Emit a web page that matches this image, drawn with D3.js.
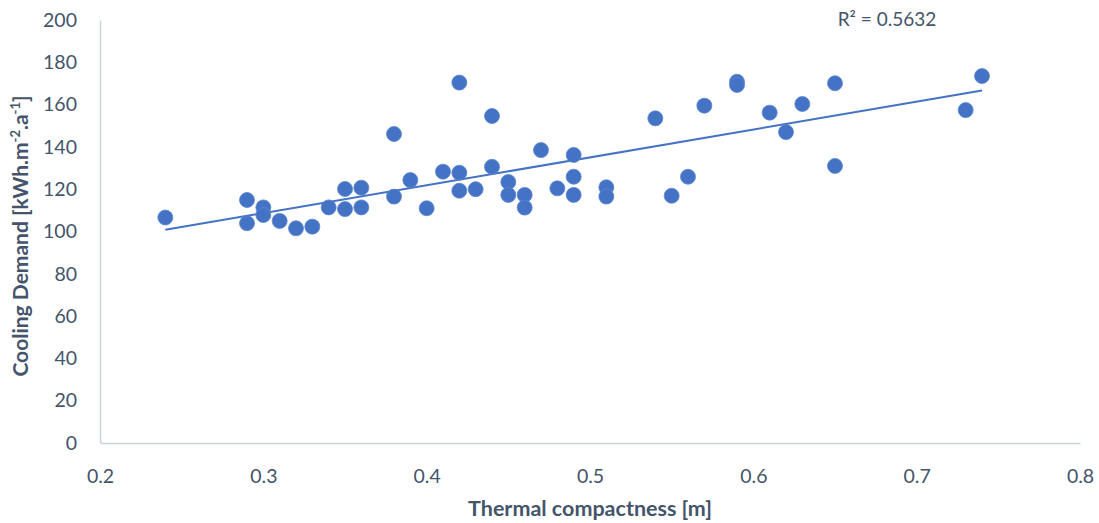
<!DOCTYPE html>
<html lang="en">
<head>
    <meta charset="UTF-8">
    <title>Cooling demand vs thermal compactness</title>
    <script src="https://d3js.org/d3.v7.min.js"></script>
    <style>
        body { margin: 0; background: #fff; }
        text { font-family: Lato, "Open Sans", sans-serif; fill: #44546A; }
    </style>
</head>
<body>
    <svg id="chart"></svg>

    <script>
        // thermal compactness [m]
        const compactness = [
            0.24, 0.29, 0.29, 0.30, 0.30, 0.31, 0.32, 0.33, 0.34, 0.35, 0.35, 0.36, 0.36,
            0.38, 0.38, 0.39, 0.40, 0.41, 0.42, 0.42, 0.42, 0.43, 0.44, 0.44, 0.45, 0.45,
            0.46, 0.46, 0.47, 0.48, 0.49, 0.49, 0.49, 0.51, 0.51, 0.54, 0.55, 0.56, 0.57,
            0.59, 0.59, 0.61, 0.62, 0.63, 0.65, 0.65, 0.73, 0.74
        ];
        // cooling demand [kWh.m-2.a-1]
        const cooling = [
            106.6, 114.9, 103.9, 111.4, 107.8, 105.0, 101.5, 102.3, 111.4, 120.1, 110.6, 120.7, 111.4,
            146.1, 116.5, 124.3, 111.0, 128.3, 170.4, 127.8, 119.3, 120.0, 154.6, 130.6, 123.4, 117.3,
            117.3, 111.3, 138.5, 120.4, 136.2, 125.9, 117.3, 120.9, 116.5, 153.5, 116.9, 125.9, 159.5,
            170.8, 169.3, 156.2, 147.0, 160.3, 170.1, 131.0, 157.4, 173.5
        ];
        const xTicks = [0.2, 0.3, 0.4, 0.5, 0.6, 0.7, 0.8];
        const yTicks = [0, 20, 40, 60, 80, 100, 120, 140, 160, 180, 200];
        const r2Label = "R² = 0.5632";

        const data = compactness.map((x, i) => ({ x: x, y: cooling[i] }));

        const width = 1099, height = 523;
        const margin = { top: 20, right: 19, bottom: 80, left: 100 };

        const svg = d3.select("#chart")
                      .attr("width", width)
                      .attr("height", height);

        const xScale = d3.scaleLinear()
                         .domain([0.2, 0.8])
                         .range([margin.left, width - margin.right]);

        const yScale = d3.scaleLinear()
                         .domain([0, 200])
                         .range([height - margin.bottom, margin.top]);

        // axes
        const xAxis = svg.append("g")
           .attr("transform", `translate(0,${height - margin.bottom})`)
           .call(d3.axisBottom(xScale).tickValues(xTicks).tickSize(0).tickPadding(26)
                 .tickFormat(d3.format("")));
        const yAxis = svg.append("g")
           .attr("transform", `translate(${margin.left},0)`)
           .call(d3.axisLeft(yScale).tickValues(yTicks).tickSize(0).tickPadding(23));

        [xAxis, yAxis].forEach(g => {
            g.select(".domain").attr("stroke", "#CDD3DD").attr("stroke-width", 1.5);
            g.selectAll("text").style("font-size", "19.5px").attr("fill", "#4A5568");
        });

        // linear trendline (least squares)
        const mx = d3.mean(data, d => d.x), my = d3.mean(data, d => d.y);
        const slope = d3.sum(data, d => (d.x - mx) * (d.y - my)) / d3.sum(data, d => (d.x - mx) ** 2);
        const icpt = my - slope * mx;
        const [x0, x1] = d3.extent(data, d => d.x);

        svg.append("line")
           .attr("x1", xScale(x0)).attr("y1", yScale(icpt + slope * x0))
           .attr("x2", xScale(x1)).attr("y2", yScale(icpt + slope * x1))
           .attr("stroke", "#4472C4")
           .attr("stroke-width", 2);

        svg.selectAll(".dot")
           .data(data)
           .enter()
           .append("circle")
           .attr("class", "dot")
           .attr("cx", d => xScale(d.x))
           .attr("cy", d => yScale(d.y))
           .attr("r", 7.5)
           .attr("fill", "#4472C4")
           .attr("stroke", "#5B85CF")
           .attr("stroke-width", 0.8);

        svg.append("text")
           .attr("x", 887)
           .attr("y", 26)
           .attr("text-anchor", "middle")
           .style("font-size", "19px")
           .text(r2Label);

        // axis titles
        svg.append("text")
           .attr("x", 590)
           .attr("y", 516)
           .attr("text-anchor", "middle")
           .style("font-size", "21.5px")
           .style("font-weight", "bold")
           .text("Thermal compactness [m]");

        const yTitle = svg.append("text")
           .attr("transform", "translate(28,236) rotate(-90)")
           .attr("text-anchor", "middle")
           .style("font-size", "21px")
           .style("font-weight", "bold");
        yTitle.append("tspan").text("Cooling Demand [kWh.m");
        yTitle.append("tspan").attr("baseline-shift", "super").style("font-size", "13px").text("-2");
        yTitle.append("tspan").text(".a");
        yTitle.append("tspan").attr("baseline-shift", "super").style("font-size", "13px").text("-1");
        yTitle.append("tspan").text("]");
    </script>
</body>
</html>
